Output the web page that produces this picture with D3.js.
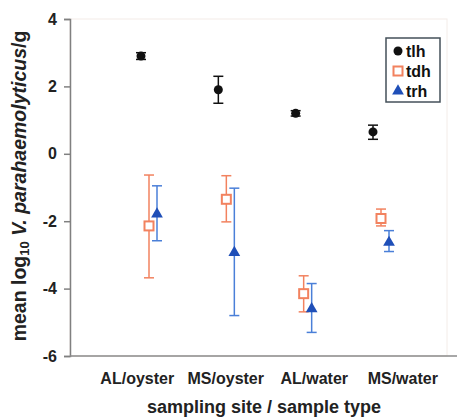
<!DOCTYPE html>
<html>
<head>
<meta charset="utf-8">
<script src="https://cdn.jsdelivr.net/npm/d3@7"></script>
<style>
  body { margin: 0; background: #fff; }
  text { font-family: Arial, "Liberation Sans", sans-serif; }
</style>
</head>
<body>
<div id="chart"></div>
<script>
(function () {
    var width = 457, height = 419;

    // data
    var categories = ["AL/oyster", "MS/oyster", "AL/water", "MS/water"];
    var seriesNames = ["tlh", "tdh", "trh"];
    var tlhMean = [2.9, 1.9, 1.2, 0.65];
    var tlhLow = [2.8, 1.5, 1.12, 0.43];
    var tlhHigh = [3.0, 2.3, 1.28, 0.85];
    var tdhMean = [-2.14, -1.35, -4.15, -1.92];
    var tdhLow = [-3.68, -2.02, -4.69, -2.14];
    var tdhHigh = [-0.63, -0.65, -3.62, -1.64];
    var trhMean = [-1.79, -2.93, -4.6, -2.63];
    var trhLow = [-2.58, -4.8, -5.3, -2.9];
    var trhHigh = [-0.95, -1.02, -3.85, -2.28];
    var yTicks = [4, 2, 0, -2, -4, -6];

    var series = [
        { name: seriesNames[0], mean: tlhMean, low: tlhLow, high: tlhHigh, color: "#111", bar: "#111", shape: "circle", dx: -8 },
        { name: seriesNames[1], mean: tdhMean, low: tdhLow, high: tdhHigh, color: "#f2825f", bar: "#f2825f", shape: "square", dx: 0 },
        { name: seriesNames[2], mean: trhMean, low: trhLow, high: trhHigh, color: "#1f4fb8", bar: "#4a7fd8", shape: "triangle", dx: 8 }
    ];

    var left = 70, right = 447, top = 19, bottom = 356;

    var svg = d3.select("#chart")
        .append("svg")
        .attr("width", width)
        .attr("height", height);

    var y = d3.scaleLinear().domain([-6, 4]).range([bottom, top]);
    var x = d3.scalePoint().domain(categories).range([149, 381]);
    var xLabel = d3.scaleBand().domain(categories).range([93, 447]);

    // faint plot frame
    svg.append("rect")
        .attr("x", left).attr("y", top)
        .attr("width", right - left).attr("height", bottom - top)
        .attr("fill", "#fff")
        .attr("stroke", "#f3ece8");

    // y axis
    var yAxis = svg.append("g")
        .attr("transform", "translate(" + left + ",0)")
        .call(d3.axisLeft(y).tickValues(yTicks).tickSize(6).tickPadding(7)
            .tickFormat(function (d) { return String(d); }));
    yAxis.selectAll("path, line").attr("stroke", "#808080").attr("stroke-width", 1.5);
    yAxis.selectAll("text").attr("font-size", 16).attr("font-weight", "bold").attr("fill", "#222");

    // x axis (labels only, line at bottom)
    var xAxis = svg.append("g")
        .attr("transform", "translate(0," + bottom + ")")
        .call(d3.axisBottom(xLabel).tickSize(0).tickPadding(17));
    xAxis.select("path").attr("d", "M" + left + ",0H" + (right + 10)).attr("stroke", "#8a8a8a").attr("stroke-width", 1.5);
    xAxis.selectAll("text").attr("font-size", 16).attr("font-weight", "bold").attr("fill", "#222");

    // axis titles
    svg.append("text")
        .attr("x", 264).attr("y", 413)
        .attr("text-anchor", "middle")
        .attr("font-size", 18).attr("font-weight", "bold").attr("fill", "#222")
        .text("sampling site / sample type");

    var yt = svg.append("text")
        .attr("transform", "translate(26,186) rotate(-90)")
        .attr("text-anchor", "middle")
        .attr("font-size", 19.5).attr("font-weight", "bold").attr("fill", "#222");
    yt.append("tspan").text("mean log");
    yt.append("tspan").attr("font-size", 13).attr("dy", 3).text("10");
    yt.append("tspan").attr("dy", -3).text(" ");
    yt.append("tspan").attr("font-style", "italic").text("V. parahaemolyticus");
    yt.append("tspan").text("/g");

    function drawMarker(g, shape, color) {
        if (shape === "circle") {
            g.append("circle").attr("r", 4.5).attr("fill", color);
        } else if (shape === "square") {
            g.append("rect").attr("x", -4.5).attr("y", -4.5).attr("width", 9).attr("height", 9)
                .attr("fill", "#fff").attr("stroke", color).attr("stroke-width", 2);
        } else {
            g.append("path").attr("d", d3.symbol(d3.symbolTriangle, 60)()).attr("fill", color);
        }
    }

    series.forEach(function (s) {
        var g = svg.append("g").attr("class", "series-" + s.name);
        categories.forEach(function (c, i) {
            var cx = x(c) + s.dx;
            var pt = g.append("g");
            pt.append("line")
                .attr("x1", cx).attr("x2", cx)
                .attr("y1", y(s.low[i])).attr("y2", y(s.high[i]))
                .attr("stroke", s.bar).attr("stroke-width", 1.5);
            [s.low[i], s.high[i]].forEach(function (v) {
                pt.append("line")
                    .attr("x1", cx - 5).attr("x2", cx + 5)
                    .attr("y1", y(v)).attr("y2", y(v))
                    .attr("stroke", s.bar).attr("stroke-width", 1.5);
            });
            var m = pt.append("g").attr("transform", "translate(" + cx + "," + y(s.mean[i]) + ")");
            drawMarker(m, s.shape, s.color);
        });
    });

    // legend
    var legend = svg.append("g").attr("transform", "translate(386,38)");
    legend.append("rect")
        .attr("width", 54).attr("height", 64)
        .attr("fill", "#fff").attr("stroke", "#44505a").attr("stroke-width", 1.5);
    series.forEach(function (s, i) {
        var row = legend.append("g").attr("transform", "translate(12," + (13 + i * 20) + ")");
        drawMarker(row, s.shape, s.color);
        row.append("text")
            .attr("x", 8).attr("y", 6)
            .attr("font-size", 16).attr("font-weight", "bold").attr("fill", "#111")
            .text(s.name);
    });
})();
</script>
</body>
</html>
